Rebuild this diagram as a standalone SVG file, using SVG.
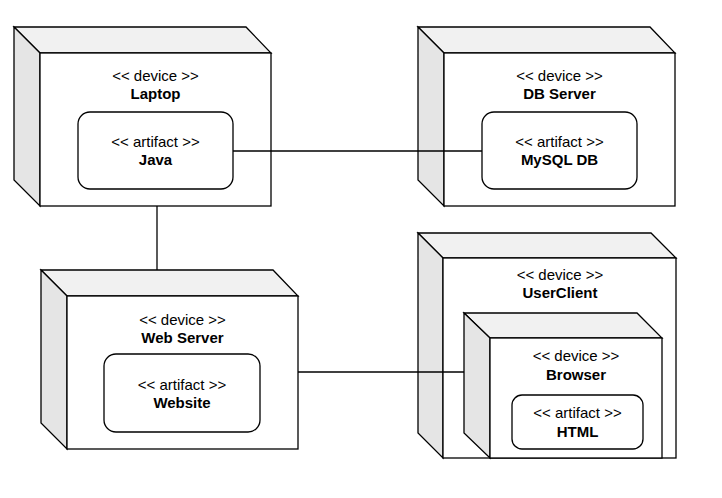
<svg xmlns="http://www.w3.org/2000/svg" width="722" height="498" viewBox="0 0 722 498">
  <style>
    .top { fill: #f1f1f1; stroke: #000000; stroke-width: 1.3; }
    .side { fill: #e5e5e5; stroke: #000000; stroke-width: 1.3; }
    .front { fill: #ffffff; stroke: #000000; stroke-width: 1.3; }
    .artifact { fill: #ffffff; stroke: #000000; stroke-width: 1.3; }
    .edge { fill: none; stroke: #000000; stroke-width: 1.3; }
    text { font-family: "Liberation Sans", Arial, Helvetica, sans-serif; font-size: 15px; fill: #000000; text-anchor: middle; }
    .name { font-weight: bold; }
  </style>

  <rect x="0" y="0" width="722" height="498" fill="#ffffff"/>

  <!-- Laptop device -->
  <g id="laptop">
    <polygon class="top" points="14,27 246,27 271,53 40,53"/>
    <polygon class="side" points="14,27 40,53 40,206 14,180"/>
    <rect class="front" x="40" y="53" width="231" height="153"/>
    <text x="155.5" y="81">&lt;&lt; device &gt;&gt;</text>
    <text class="name" x="155.5" y="99">Laptop</text>
    <g id="java">
      <rect class="artifact" x="78" y="112" width="155" height="77" rx="12" ry="12"/>
      <text x="155.5" y="147">&lt;&lt; artifact &gt;&gt;</text>
      <text class="name" x="155.5" y="165">Java</text>
    </g>
  </g>

  <!-- DB Server device -->
  <g id="db-server">
    <polygon class="top" points="418,27 650,27 675,53 444,53"/>
    <polygon class="side" points="418,27 444,53 444,206 418,180"/>
    <rect class="front" x="444" y="53" width="231" height="153"/>
    <text x="559.5" y="81">&lt;&lt; device &gt;&gt;</text>
    <text class="name" x="559.5" y="99">DB Server</text>
    <g id="mysql-db">
      <rect class="artifact" x="482" y="112" width="155" height="77" rx="12" ry="12"/>
      <text x="559.5" y="147">&lt;&lt; artifact &gt;&gt;</text>
      <text class="name" x="559.5" y="165">MySQL DB</text>
    </g>
  </g>

  <!-- Web Server device -->
  <g id="web-server">
    <polygon class="top" points="41,270 273,270 298,296 67,296"/>
    <polygon class="side" points="41,270 67,296 67,449 41,423"/>
    <rect class="front" x="67" y="296" width="231" height="153"/>
    <text x="182.5" y="325">&lt;&lt; device &gt;&gt;</text>
    <text class="name" x="182.5" y="343">Web Server</text>
    <g id="website">
      <rect class="artifact" x="104" y="354" width="156" height="78" rx="12" ry="12"/>
      <text x="182" y="390">&lt;&lt; artifact &gt;&gt;</text>
      <text class="name" x="182" y="408">Website</text>
    </g>
  </g>

  <!-- UserClient device with nested Browser -->
  <g id="user-client">
    <polygon class="top" points="418,233 651,233 676,258 443,258"/>
    <polygon class="side" points="418,233 443,258 443,458 418,433"/>
    <rect class="front" x="443" y="258" width="233" height="200"/>
    <text x="560" y="280">&lt;&lt; device &gt;&gt;</text>
    <text class="name" x="560" y="298">UserClient</text>
    <g id="browser">
      <polygon class="top" points="464,313 637,313 662,338 490,338"/>
      <polygon class="side" points="464,313 490,338 490,458 464,433"/>
      <rect class="front" x="490" y="338" width="172" height="120"/>
      <text x="576" y="361">&lt;&lt; device &gt;&gt;</text>
      <text class="name" x="576" y="380">Browser</text>
      <g id="html">
        <rect class="artifact" x="512" y="395" width="131" height="54" rx="10" ry="10"/>
        <text x="577.5" y="418">&lt;&lt; artifact &gt;&gt;</text>
        <text class="name" x="577.5" y="437">HTML</text>
      </g>
    </g>
  </g>

  <!-- connectors, drawn over the device bodies -->
  <g id="connectors">
    <line class="edge" x1="157" y1="206" x2="157" y2="270"/>
    <line class="edge" x1="233" y1="151" x2="482" y2="151"/>
    <line class="edge" x1="298" y1="372" x2="464" y2="372"/>
  </g>
</svg>
